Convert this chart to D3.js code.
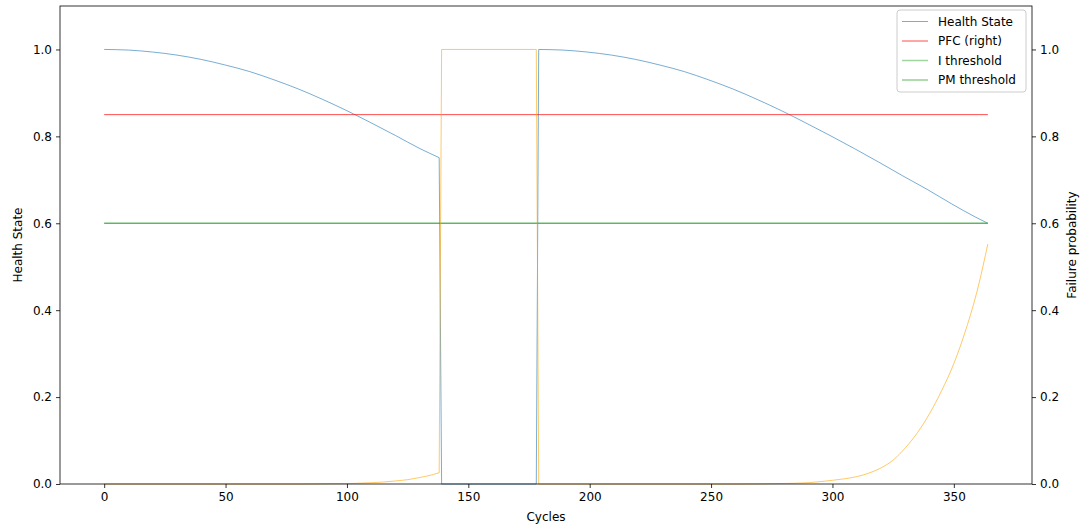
<!DOCTYPE html>
<html>
<head>
<meta charset="utf-8">
<script src="https://cdn.jsdelivr.net/npm/d3@7"></script>
<style>
  html, body { margin: 0; padding: 0; background: #fff; }
  svg text { font-family: "DejaVu Sans", sans-serif; }
</style>
</head>
<body>
<svg id="chart" width="1081" height="527"></svg>
<script>
// Health state of the component over the cycles (left axis)
const healthCycles = [0, 10, 20, 30, 40, 50, 60, 70, 80, 90, 100, 110, 120, 130, 138,
  139, 178,
  179, 189, 199, 209, 219, 229, 239, 249, 259, 269, 279, 289, 299, 309, 319, 329, 339, 349, 359, 364];
const healthValues = [1.0, 0.9986, 0.994, 0.987, 0.977, 0.964, 0.949, 0.930, 0.909, 0.885, 0.859, 0.831, 0.802, 0.772, 0.751,
  0.0, 0.0,
  1.0, 0.9986, 0.994, 0.987, 0.977, 0.964, 0.949, 0.930, 0.909, 0.885, 0.859, 0.831, 0.802, 0.772, 0.741, 0.709, 0.678, 0.645, 0.614, 0.600];

// Failure probability (right axis)
const failCycles = [0, 80, 90, 100, 110, 115, 120, 125, 130, 135, 138,
  139, 178,
  179, 260, 270, 280, 290, 300, 305, 310, 315, 320, 325, 330, 335, 340, 345, 350, 355, 360, 364];
const failValues = [0.0, 0.0, 0.0005, 0.001, 0.003, 0.0045, 0.007, 0.010, 0.015, 0.021, 0.026,
  1.0, 1.0,
  0.0, 0.0, 0.0005, 0.0012, 0.003, 0.0085, 0.012, 0.017, 0.025, 0.037, 0.055, 0.083, 0.118, 0.162, 0.215, 0.277, 0.356, 0.453, 0.552];

// Horizontal reference levels
const pfcLevel = 0.85;
const iThreshold = 0.6;
const pmThreshold = 0.6;
const cycleRange = [0, 364];

const xTicks = [0, 50, 100, 150, 200, 250, 300, 350];
const yTicks = [0.0, 0.2, 0.4, 0.6, 0.8, 1.0];

const legendLabels = ["Health State", "PFC (right)", "I threshold", "PM threshold"];

const svg = d3.select("#chart");
const m = { left: 60, right: 1032, top: 6, bottom: 484 };

const span = cycleRange[1] - cycleRange[0];
const x = d3.scaleLinear()
  .domain([cycleRange[0] - 0.05 * span, cycleRange[1] + 0.05 * span])
  .range([m.left, m.right]);
const yL = d3.scaleLinear().domain([0, 1.1]).range([m.bottom, m.top]);
const yR = d3.scaleLinear().domain([0, 1.1]).range([m.bottom, m.top]);

const styles = {
  health: { stroke: "#1f77b4", opacity: 0.6, width: 1 },
  pfc: { stroke: "#ff0000", opacity: 0.7, width: 1 },
  iThr: { stroke: "#2ca02c", opacity: 0.45, width: 1.5 },
  pmThr: { stroke: "#2ca02c", opacity: 0.75, width: 1 },
  fail: { stroke: "#ffa500", opacity: 0.6, width: 1 }
};

const plot = svg.append("g");

// Smooth runs are drawn with a monotone curve; abrupt steps (failure / renewal) stay straight.
function drawLine(xs, ys, yScale, st) {
  const pts = xs.map((c, i) => [c, ys[i]]);
  const smooth = d3.line().curve(d3.curveMonotoneX).x(d => x(d[0])).y(d => yScale(d[1]));
  const straight = d3.line().x(d => x(d[0])).y(d => yScale(d[1]));
  const parts = [];
  let run = [pts[0]];
  for (let i = 1; i < pts.length; i++) {
    if (Math.abs(pts[i][1] - pts[i - 1][1]) > 0.3) {
      parts.push(smooth(run));
      parts.push(straight([pts[i - 1], pts[i]]));
      run = [pts[i]];
    } else {
      run.push(pts[i]);
    }
  }
  parts.push(smooth(run));
  plot.append("path")
    .attr("fill", "none")
    .attr("stroke", st.stroke)
    .attr("stroke-opacity", st.opacity)
    .attr("stroke-width", st.width)
    .attr("stroke-linejoin", "round")
    .attr("d", parts.join(""));
}

drawLine(healthCycles, healthValues, yL, styles.health);
drawLine(cycleRange, [iThreshold, iThreshold], yL, styles.iThr);
drawLine(cycleRange, [pmThreshold, pmThreshold], yL, styles.pmThr);
drawLine(cycleRange, [pfcLevel, pfcLevel], yR, styles.pfc);
drawLine(failCycles, failValues, yR, styles.fail);

// Axes
const fmt = d3.format(".1f");
const axisStyle = g => {
  g.selectAll("path").remove();
  g.selectAll("line").attr("stroke", "#000").attr("stroke-width", 0.8);
  g.selectAll("text").attr("fill", "#000").style("font-size", "12px");
};

svg.append("g").attr("transform", `translate(0,${m.bottom})`)
  .call(d3.axisBottom(x).tickValues(xTicks).tickSize(4).tickPadding(4).tickFormat(d3.format("d")))
  .call(axisStyle);

svg.append("g").attr("transform", `translate(${m.left},0)`)
  .call(d3.axisLeft(yL).tickValues(yTicks).tickSize(4).tickPadding(4).tickFormat(fmt))
  .call(axisStyle);

svg.append("g").attr("transform", `translate(${m.right},0)`)
  .call(d3.axisRight(yR).tickValues(yTicks).tickSize(4).tickPadding(4).tickFormat(fmt))
  .call(axisStyle);

// Frame
svg.append("rect")
  .attr("x", m.left).attr("y", m.top)
  .attr("width", m.right - m.left).attr("height", m.bottom - m.top)
  .attr("fill", "none").attr("stroke", "#000").attr("stroke-width", 0.8);

// Axis titles
svg.append("text").attr("x", (m.left + m.right) / 2).attr("y", 521)
  .attr("text-anchor", "middle").style("font-size", "12px").text("Cycles");
svg.append("text").attr("transform", `translate(22,${(m.top + m.bottom) / 2}) rotate(-90)`)
  .attr("text-anchor", "middle").style("font-size", "12px").text("Health State");
svg.append("text").attr("transform", `translate(1076,${(m.top + m.bottom) / 2}) rotate(-90)`)
  .attr("text-anchor", "middle").style("font-size", "12px").text("Failure probability");

// Legend
const legendStyles = [styles.health, styles.pfc, styles.iThr, styles.pmThr];
const lg = svg.append("g").attr("transform", "translate(897,10)");
lg.append("rect")
  .attr("width", 129).attr("height", 82)
  .attr("rx", 3).attr("ry", 3)
  .attr("fill", "#fff").attr("fill-opacity", 0.8)
  .attr("stroke", "#cccccc").attr("stroke-width", 1);
legendLabels.forEach((lab, i) => {
  const cy = 11.5 + i * 19.5;
  const st = legendStyles[i];
  lg.append("line")
    .attr("x1", 5).attr("x2", 31).attr("y1", cy).attr("y2", cy)
    .attr("stroke", st.stroke).attr("stroke-opacity", st.opacity).attr("stroke-width", st.width);
  lg.append("text")
    .attr("x", 41).attr("y", cy).attr("dy", "0.35em")
    .style("font-size", "12px").attr("fill", "#000").text(lab);
});
</script>
</body>
</html>
